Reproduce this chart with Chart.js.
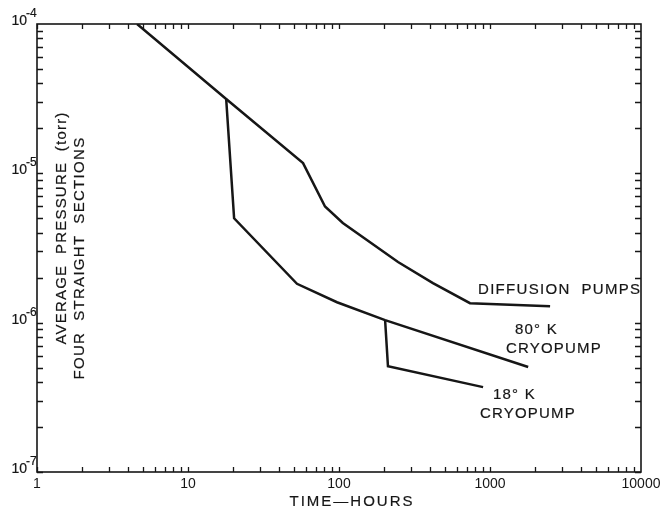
<!DOCTYPE html>
<html>
<head>
<meta charset="utf-8">
<script src="https://cdn.jsdelivr.net/npm/chart.js@4"></script>
<style>
html, body { margin: 0; padding: 0; background: #fff; }
#wrap { width: 664px; height: 510px; }
</style>
</head>
<body>
<div id="wrap"><canvas id="plot"></canvas></div>
<script>
// pump-down curves
const diffusionHours = [4.6, 17.9, 57.8, 80.8, 106, 246, 419, 737, 2500];
const diffusionTorr = [1e-4, 3.15e-5, 1.17e-5, 6.0e-6, 4.65e-6, 2.55e-6, 1.84e-6, 1.35e-6, 1.29e-6];
const cryo80Hours = [17.9, 20.2, 52.7, 97, 202, 1790];
const cryo80Torr = [3.15e-5, 5.0e-6, 1.82e-6, 1.37e-6, 1.04e-6, 5.05e-7];
const cryo18Hours = [202, 211, 900];
const cryo18Torr = [1.04e-6, 5.1e-7, 3.7e-7];
const xDecades = [1, 10, 100, 1000, 10000];
const yExponents = [-7, -6, -5, -4];

const INK = '#161616';
const FONT = '"Liberation Sans", Arial, sans-serif';

function pts(xs, ys) {
	return xs.map((x, i) => ({ x: x, y: ys[i] }));
}

function lineSet(label, xs, ys) {
	return {
		label: label,
		data: pts(xs, ys),
		borderColor: INK,
		borderWidth: 2.5,
		pointRadius: 0,
		tension: 0,
		fill: false
	};
}

// a touch heavier than plain fill, like the printed lettering
function spacedText(ctx, txt, x, y, spacing) {
	ctx.letterSpacing = spacing + 'px';
	ctx.lineWidth = 0.2;
	ctx.fillText(txt, x, y);
	ctx.strokeText(txt, x, y);
	ctx.letterSpacing = '0px';
}

const decor = {
	id: 'decor',
	afterDraw(chart) {
		const ctx = chart.ctx;
		const a = chart.chartArea;
		const xs = chart.scales.x;
		const ys = chart.scales.y;
		ctx.save();
		ctx.strokeStyle = INK;
		ctx.fillStyle = INK;

		// frame
		ctx.lineWidth = 1.6;
		ctx.strokeRect(a.left, a.top, a.right - a.left, a.bottom - a.top);

		// inward ticks on all four sides
		ctx.lineWidth = 1.3;
		ctx.beginPath();
		for (let d = 0; d < xDecades.length - 1; d++) {
			for (let m = 1; m < 10; m++) {
				const px = Math.round(xs.getPixelForValue(m * xDecades[d])) + 0.5;
				ctx.moveTo(px, a.bottom);
				ctx.lineTo(px, a.bottom - 5);
				ctx.moveTo(px, a.top);
				ctx.lineTo(px, a.top + 5);
			}
		}
		for (let e = yExponents[0]; e < yExponents[yExponents.length - 1]; e++) {
			for (let m = 1; m < 10; m++) {
				const py = Math.round(ys.getPixelForValue(m * Math.pow(10, e))) + 0.5;
				ctx.moveTo(a.left, py);
				ctx.lineTo(a.left + 6, py);
				ctx.moveTo(a.right, py);
				ctx.lineTo(a.right - 6, py);
			}
		}
		ctx.stroke();

		// y tick labels as powers of ten
		yExponents.forEach(e => {
			const py = ys.getPixelForValue(Math.pow(10, e));
			ctx.textBaseline = 'alphabetic';
			ctx.font = '14px ' + FONT;
			ctx.textAlign = 'right';
			spacedText(ctx, '10', 27, py + 1, 0);
			ctx.font = '12px ' + FONT;
			ctx.textAlign = 'left';
			spacedText(ctx, '-' + Math.abs(e), 26, py - 7, 0);
		});

		// axis titles
		ctx.font = '15px ' + FONT;
		ctx.textAlign = 'center';
		ctx.textBaseline = 'middle';
		spacedText(ctx, 'TIME\u2014HOURS', 352, 502, 2);

		ctx.save();
		ctx.translate(62, 228);
		ctx.rotate(-Math.PI / 2);
		spacedText(ctx, 'AVERAGE  PRESSURE  (torr)', 0, 0, 1.2);
		ctx.restore();
		ctx.save();
		ctx.translate(80, 258);
		ctx.rotate(-Math.PI / 2);
		spacedText(ctx, 'FOUR  STRAIGHT  SECTIONS', 0, 0, 1.3);
		ctx.restore();

		// curve labels
		ctx.textAlign = 'left';
		spacedText(ctx, 'DIFFUSION  PUMPS', 478, 290, 1.3);
		spacedText(ctx, '80\u00B0 K', 515, 330, 1.2);
		spacedText(ctx, 'CRYOPUMP', 506, 349, 1.2);
		spacedText(ctx, '18\u00B0 K', 493, 395, 1.2);
		spacedText(ctx, 'CRYOPUMP', 480, 414, 1.2);

		ctx.restore();
	}
};

const plot = new Chart(document.getElementById('plot').getContext('2d'), {
	type: 'line',
	data: {
		datasets: [
			lineSet('Diffusion pumps', diffusionHours, diffusionTorr),
			lineSet('80 K cryopump', cryo80Hours, cryo80Torr),
			lineSet('18 K cryopump', cryo18Hours, cryo18Torr)
		]
	},
	options: {
		responsive: true,
		maintainAspectRatio: false,
		animation: false,
		layout: {
			padding: {
				left: 0,
				right: 23,
				top: 24,
				bottom: 0
			}
		},
		plugins: {
			legend: { display: false },
			tooltip: { enabled: false }
		},
		scales: {
			x: {
				type: 'logarithmic',
				min: xDecades[0],
				max: xDecades[xDecades.length - 1],
				grid: { display: false },
				border: { display: false },
				afterFit(scale) { scale.height = 38; },
				ticks: {
					autoSkip: false,
					maxRotation: 0,
					padding: -4,
					color: INK,
					font: { family: FONT, size: 14 },
					callback(v) {
						return xDecades.includes(v) ? String(v) : '';
					}
				}
			},
			y: {
				type: 'logarithmic',
				min: Math.pow(10, yExponents[0]),
				max: Math.pow(10, yExponents[yExponents.length - 1]),
				grid: { display: false },
				border: { display: false },
				afterFit(scale) { scale.width = 37; },
				ticks: { display: false }
			}
		}
	},
	plugins: [decor]
});
</script>
</body>
</html>
